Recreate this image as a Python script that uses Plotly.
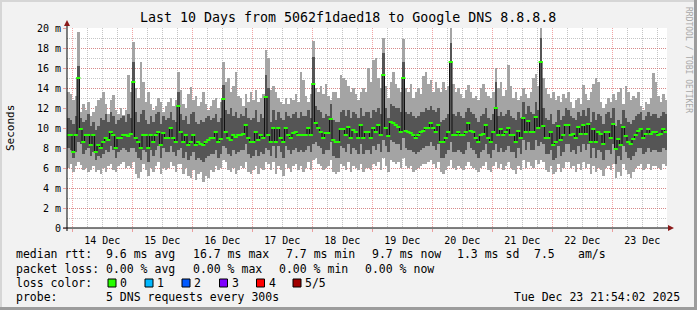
import plotly.graph_objects as go
import pandas as pd

# ---------------- data (ms) ----------------
START = "2025-12-13 21:54:02"
END = "2025-12-23 21:54:02"
FIRST_BAR = "2025-12-13 22:24:02"

median_ms = [
    9.3, 9.3, 7.6, 9.3, 15.0, 9.9, 8.6, 9.3, 9.3, 8.3,
    9.3, 7.6, 8.3, 8.0, 8.6, 9.0, 8.8, 9.6, 9.3, 8.0,
    9.0, 9.0, 9.3, 9.3, 9.2, 9.4, 14.6, 9.0, 8.6, 8.0,
    9.3, 9.3, 8.0, 9.3, 8.6, 9.3, 9.6, 8.3, 9.5, 9.0,
    9.0, 10.0, 9.0, 8.6, 12.2, 9.6, 8.6, 9.3, 8.3, 8.6,
    9.3, 8.3, 8.6, 8.4, 8.3, 8.6, 8.8, 9.0, 9.0, 9.6,
    8.6, 8.9, 12.9, 9.6, 9.0, 8.8, 9.3, 9.1, 9.3, 9.3,
    9.4, 10.3, 9.0, 8.6, 8.6, 9.6, 8.8, 9.3, 9.0, 13.1,
    9.3, 8.6, 10.0, 8.6, 10.0, 9.0, 8.6, 10.0, 9.3, 9.0,
    9.5, 9.6, 9.3, 9.3, 9.3, 9.3, 10.0, 9.3, 14.4, 10.5,
    10.0, 9.6, 9.0, 9.5, 9.5, 10.9, 8.8, 8.6, 8.6, 9.9,
    9.9, 9.3, 10.1, 9.0, 9.8, 9.6, 9.0, 10.3, 9.0, 9.6,
    9.6, 9.0, 10.0, 9.6, 10.3, 9.3, 15.3, 10.0, 9.2, 10.6,
    10.5, 10.3, 10.1, 9.6, 15.0, 9.7, 9.6, 9.5, 9.3, 9.0,
    9.3, 9.6, 9.7, 10.0, 10.0, 10.5, 10.0, 9.6, 10.3, 8.6,
    8.6, 9.0, 9.6, 16.6, 9.3, 9.3, 9.6, 9.3, 9.3, 9.6,
    10.5, 9.7, 9.6, 9.0, 8.6, 9.3, 9.4, 10.3, 9.0, 8.6,
    9.6, 12.0, 9.3, 9.9, 9.3, 9.6, 10.0, 9.3, 9.3, 8.6,
    9.7, 9.0, 11.0, 9.6, 10.7, 9.6, 9.6, 11.1, 10.0, 16.6,
    10.2, 9.0, 9.0, 9.6, 8.3, 8.6, 10.2, 8.8, 9.3, 10.3,
    10.3, 9.3, 9.4, 9.0, 10.1, 9.4, 10.3, 9.4, 10.4, 8.6,
    9.9, 8.6, 9.6, 9.4, 8.4, 9.6, 9.6, 9.0, 10.4, 7.9,
    8.9, 8.3, 10.1, 9.2, 8.6, 8.4, 8.9, 9.3, 9.7, 9.9,
    9.0, 9.4, 9.9, 9.4, 9.6, 9.6, 9.3, 9.4, 9.9, 9.6,
]

smoke_max = [
    13.6, 13.4, 12.8, 13.2, 19.6, 11.6, 12.4, 11.8, 12.6, 11.2,
    11.6, 12.2, 12.8, 13.0, 13.6, 12.4, 11.4, 12.8, 13.3, 11.8,
    11.4, 12.0, 11.3, 11.8, 15.3, 13.6, 18.6, 14.0, 13.0, 16.6,
    14.6, 12.6, 13.6, 12.4, 11.8, 12.2, 13.0, 12.6, 11.6, 12.2,
    12.6, 13.0, 12.2, 12.8, 15.6, 13.8, 12.4, 12.0, 13.4, 14.1,
    12.8, 13.2, 12.2, 12.6, 13.6, 12.4, 11.8, 12.2, 12.8, 13.0,
    12.0, 12.6, 16.6, 14.6, 15.0, 13.6, 14.2, 15.6, 13.2, 13.0,
    12.2, 13.4, 12.6, 13.6, 12.8, 13.8, 12.6, 13.0, 13.4, 17.8,
    17.0, 13.8, 14.2, 13.6, 13.0, 12.6, 12.4, 13.0, 12.4, 13.0,
    12.8, 13.4, 12.6, 15.6, 14.8, 13.2, 12.6, 13.4, 18.7, 14.0,
    13.6, 14.2, 13.4, 14.4, 13.2, 12.8, 13.6, 13.6, 13.0, 15.3,
    15.0, 14.8, 14.2, 13.6, 14.0, 13.4, 12.8, 13.6, 14.0, 13.6,
    16.0, 14.6, 16.8, 17.0, 15.0, 14.0, 19.0, 14.2, 13.0, 14.6,
    15.6, 14.4, 14.0, 13.6, 18.9, 14.0, 13.6, 14.4, 13.0, 13.6,
    14.0, 13.4, 15.2, 15.6, 14.4, 14.8, 13.6, 14.6, 14.0, 13.6,
    14.6, 13.8, 14.2, 20.0, 14.4, 13.6, 14.0, 13.4, 13.0, 13.8,
    14.3, 13.6, 13.0, 13.2, 12.8, 14.0, 14.4, 13.6, 13.2, 13.0,
    13.6, 16.0, 14.0, 14.6, 13.2, 13.8, 16.3, 14.2, 13.0, 13.6,
    12.8, 13.2, 14.0, 13.4, 13.0, 13.6, 15.0, 15.4, 14.2, 20.0,
    15.0, 14.0, 13.4, 13.0, 13.6, 12.8, 13.2, 12.6, 13.4, 13.0,
    13.6, 12.6, 12.0, 12.8, 13.0, 12.4, 14.3, 13.4, 12.8, 13.6,
    14.4, 15.0, 14.6, 12.6, 12.0, 12.4, 13.0, 12.6, 13.4, 12.8,
    13.6, 14.0, 12.4, 14.2, 13.6, 12.8, 13.2, 13.0, 13.6, 12.2,
    11.8, 12.6, 12.4, 13.0, 15.5, 14.6, 13.2, 12.6, 13.4, 12.8,
]

smoke_hi = [
    11.0, 10.8, 10.4, 11.2, 16.2, 11.0, 10.6, 10.8, 11.4, 10.2,
    10.6, 9.8, 10.2, 11.0, 10.8, 11.4, 10.6, 11.6, 11.2, 10.4,
    10.8, 11.0, 11.2, 10.6, 11.4, 11.0, 16.6, 11.6, 10.6, 11.4,
    11.8, 10.8, 10.4, 11.2, 10.6, 11.4, 11.6, 10.4, 11.2, 10.8,
    11.0, 11.6, 10.8, 10.6, 13.6, 11.4, 10.8, 11.2, 10.4, 11.4,
    11.6, 10.6, 10.4, 10.8, 10.6, 11.0, 11.2, 10.8, 11.0, 11.4,
    10.6, 11.0, 14.3, 11.8, 11.4, 12.0, 11.2, 11.6, 11.0, 11.4,
    11.2, 12.0, 11.0, 10.8, 11.0, 11.8, 10.6, 11.4, 11.0, 15.3,
    14.0, 10.6, 11.8, 10.8, 11.6, 11.0, 10.8, 11.6, 11.2, 11.0,
    11.4, 11.6, 11.0, 11.6, 11.2, 11.2, 11.8, 11.0, 17.1, 12.2,
    11.8, 11.6, 11.0, 11.4, 11.2, 12.4, 10.8, 10.6, 10.6, 11.6,
    11.8, 11.2, 11.8, 11.0, 11.6, 11.4, 11.0, 12.0, 11.2, 11.6,
    11.6, 11.0, 11.8, 11.6, 12.0, 11.4, 17.5, 12.0, 11.0, 12.4,
    12.2, 12.0, 12.0, 11.6, 16.6, 11.6, 11.4, 11.6, 11.2, 11.0,
    11.2, 11.6, 11.6, 12.0, 11.8, 12.2, 11.8, 11.6, 12.0, 10.6,
    10.8, 11.0, 11.4, 18.5, 11.4, 11.2, 11.6, 11.2, 11.0, 11.6,
    12.0, 11.6, 11.4, 11.0, 10.6, 11.2, 11.4, 12.0, 11.0, 10.8,
    11.4, 14.6, 11.2, 11.6, 11.2, 11.4, 11.8, 11.2, 11.0, 10.8,
    11.6, 11.0, 12.6, 11.4, 12.2, 11.6, 11.4, 12.6, 11.8, 19.0,
    12.0, 11.0, 10.8, 11.4, 10.4, 10.6, 11.8, 10.8, 11.2, 12.0,
    11.8, 11.2, 11.0, 10.8, 11.6, 11.2, 11.8, 11.2, 12.0, 10.6,
    11.6, 10.8, 11.4, 11.2, 10.4, 11.4, 11.6, 11.0, 12.0, 10.2,
    10.8, 10.4, 11.8, 11.0, 10.6, 10.4, 10.8, 11.2, 11.4, 11.6,
    10.8, 11.2, 11.6, 11.2, 11.4, 11.4, 11.0, 11.2, 11.6, 11.4,
]

smoke_lo = [
    8.0, 7.8, 7.0, 7.6, 8.6, 8.4, 7.4, 7.8, 8.0, 7.2,
    7.6, 6.8, 7.2, 7.0, 7.4, 7.8, 7.6, 8.2, 7.8, 7.0,
    7.6, 7.8, 8.0, 7.8, 7.6, 8.0, 8.0, 7.6, 7.0, 6.8,
    7.8, 7.6, 6.6, 7.8, 7.2, 7.8, 8.2, 7.0, 8.0, 7.6,
    7.6, 8.2, 7.6, 7.2, 7.8, 8.0, 7.0, 7.6, 6.8, 7.2,
    7.6, 6.8, 7.0, 6.8, 6.6, 7.0, 7.2, 7.4, 7.4, 7.8,
    7.0, 7.4, 8.2, 8.0, 7.4, 7.2, 7.8, 7.4, 7.6, 7.8,
    7.8, 8.4, 7.4, 7.0, 7.2, 7.8, 7.2, 7.6, 7.4, 8.0,
    7.8, 7.2, 8.2, 7.0, 8.2, 7.6, 7.0, 8.2, 7.8, 7.4,
    7.8, 8.0, 7.6, 7.8, 7.6, 7.8, 8.2, 7.6, 8.4, 8.6,
    8.2, 8.0, 7.4, 7.8, 7.8, 8.6, 7.2, 7.0, 7.0, 8.2,
    8.0, 7.6, 8.4, 7.4, 8.0, 7.8, 7.4, 8.4, 7.4, 7.8,
    7.8, 7.4, 8.2, 7.8, 8.4, 7.6, 8.8, 8.2, 7.6, 8.8,
    8.6, 8.4, 8.4, 7.8, 9.0, 8.0, 7.8, 7.8, 7.6, 7.4,
    7.6, 7.8, 8.0, 8.2, 8.2, 8.6, 8.2, 7.8, 8.4, 7.0,
    7.0, 7.4, 7.8, 8.6, 7.6, 7.6, 7.8, 7.6, 7.4, 7.8,
    8.6, 8.0, 7.8, 7.4, 7.0, 7.6, 7.8, 8.4, 7.4, 7.0,
    7.8, 8.4, 7.6, 8.0, 7.6, 7.8, 8.2, 7.6, 7.6, 7.0,
    8.0, 7.4, 8.8, 7.8, 8.6, 7.8, 7.8, 8.8, 8.2, 8.6,
    8.4, 7.4, 7.4, 7.8, 6.8, 7.0, 8.2, 7.2, 7.6, 8.4,
    8.4, 7.6, 7.8, 7.4, 8.2, 7.6, 8.4, 7.8, 8.4, 7.0,
    8.0, 7.0, 7.8, 7.6, 6.8, 7.8, 7.8, 7.4, 8.4, 6.4,
    7.2, 6.8, 8.2, 7.6, 7.0, 6.8, 7.2, 7.6, 8.0, 8.0,
    7.4, 7.6, 8.0, 7.6, 7.8, 7.8, 7.6, 7.6, 8.0, 7.8,
]

smoke_min = [
    6.0, 6.4, 5.6, 6.2, 6.6, 6.3, 5.8, 6.0, 5.6, 5.8,
    6.2, 5.6, 5.8, 5.4, 6.0, 5.6, 6.2, 6.4, 5.8, 5.6,
    6.2, 6.4, 6.6, 6.0, 6.2, 6.0, 6.6, 5.4, 5.0, 5.6,
    6.4, 5.8, 5.2, 6.0, 5.6, 6.2, 6.6, 5.4, 6.0, 5.8,
    6.0, 6.6, 6.2, 5.6, 6.4, 6.4, 5.4, 6.0, 5.2, 5.0,
    5.8, 4.8, 5.4, 5.6, 4.6, 5.2, 5.0, 5.8, 5.6, 6.2,
    5.8, 6.0, 6.8, 6.6, 5.8, 5.6, 6.0, 5.4, 5.8, 6.2,
    6.0, 6.6, 5.6, 5.4, 5.8, 6.2, 5.4, 6.0, 5.8, 6.6,
    6.4, 5.8, 6.6, 5.4, 6.2, 5.8, 5.2, 6.4, 6.0, 5.6,
    6.2, 6.4, 5.8, 6.2, 5.6, 6.0, 6.6, 5.8, 6.8, 7.0,
    6.4, 6.2, 5.8, 6.0, 6.2, 6.8, 5.6, 5.4, 5.6, 6.4,
    6.2, 5.8, 6.6, 5.6, 6.2, 6.0, 5.8, 6.4, 5.6, 6.0,
    6.0, 5.8, 6.4, 6.2, 6.6, 5.8, 7.0, 6.2, 5.6, 6.8,
    6.6, 6.4, 6.6, 6.0, 7.0, 6.2, 6.0, 6.2, 5.6, 5.8,
    6.0, 6.2, 6.4, 6.4, 6.6, 6.8, 6.4, 6.0, 6.6, 5.6,
    5.4, 5.8, 6.2, 6.8, 6.0, 5.8, 6.2, 6.0, 5.8, 6.2,
    6.6, 6.2, 6.0, 5.8, 5.6, 6.0, 6.2, 6.6, 5.8, 5.6,
    6.2, 6.6, 6.0, 6.4, 5.8, 6.2, 6.6, 6.0, 5.8, 5.4,
    6.2, 5.8, 6.8, 6.0, 6.6, 6.2, 6.0, 6.8, 6.4, 6.8,
    6.6, 5.8, 5.6, 6.2, 5.4, 5.6, 6.4, 5.6, 6.0, 6.6,
    6.6, 6.0, 6.2, 5.6, 6.4, 5.8, 6.6, 6.0, 6.4, 5.4,
    6.2, 5.6, 6.0, 5.8, 5.2, 6.0, 6.2, 5.8, 6.4, 5.0,
    5.6, 5.2, 6.4, 5.8, 5.4, 5.0, 5.6, 6.0, 6.2, 6.4,
    5.8, 6.0, 6.4, 5.8, 6.2, 6.2, 6.0, 5.8, 6.4, 6.2,
]

y_tick_vals = [0, 2, 4, 6, 8, 10, 12, 14, 16, 18, 20]
y_tick_text = ["0", "2 m", "4 m", "6 m", "8 m", "10 m", "12 m", "14 m", "16 m", "18 m", "20 m"]

loss_labels = ["0", "1", "2", "3", "4", "5/5"]
loss_colors = ["#26ff00", "#00b8ff", "#0059ff", "#7e00ff", "#ff0000", "#a00000"]

TITLE = "Last 10 Days from 5062f1daed18 to Google DNS 8.8.8.8"
legend_rows = [
    [("median rtt:", 16), ("9.6 ms avg", 106), ("16.7 ms max", 193), ("7.7 ms min", 286),
     ("9.7 ms now", 372), ("1.3 ms sd", 457), ("7.5", 534), ("am/s", 578)],
    [("packet loss:", 16), ("0.00 % avg", 106), ("0.00 % max", 193), ("0.00 % min", 279),
     ("0.00 % now", 365)],
]
probe_text = "5 DNS requests every 300s"
stamp_text = "Tue Dec 23 21:54:02 2025"

# ---------------- styles ----------------
MONO = "DejaVu Sans Mono"
LIGHT = "#a4a4a4"
DARK = "#555555"
GREEN = "#26ff00"
RED_GRID = "rgba(230,90,90,0.55)"
GRAY_GRID = "rgba(150,150,150,0.55)"

W, H = 697, 310
L, R, T, B = 67, 30, 28, 82
PW, PH = W - L - R, H - T - B


def px(x):
    return (x - L) / PW


def py(y):
    return (H - B - y) / PH


times = pd.date_range(FIRST_BAR, periods=len(median_ms), freq="h")
HOUR_MS = 3600 * 1000

fig = go.Figure()
fig.add_trace(go.Bar(
    x=times, y=[a - b for a, b in zip(smoke_max, smoke_min)], base=smoke_min,
    width=HOUR_MS, marker=dict(color=LIGHT, line=dict(width=0)), showlegend=False,
    hoverinfo="skip"))
fig.add_trace(go.Bar(
    x=times, y=[a - b for a, b in zip(smoke_hi, smoke_lo)], base=smoke_lo,
    width=HOUR_MS, marker=dict(color=DARK, line=dict(width=0)), showlegend=False,
    hoverinfo="skip"))
fig.add_trace(go.Scatter(
    x=times, y=median_ms, mode="lines", line=dict(color="#111111", width=1, shape="hvh"),
    showlegend=False, hoverinfo="skip"))
fig.add_trace(go.Scatter(
    x=times, y=median_ms, mode="markers",
    marker=dict(symbol="line-ew", size=3, line=dict(width=2, color=GREEN)),
    showlegend=False, hoverinfo="skip"))

shapes = []
# image border (3D look)
shapes.append(dict(type="rect", xref="paper", yref="paper", x0=px(0), x1=px(W), y0=py(2), y1=py(0),
                   fillcolor="#d6d6d6", line=dict(width=0), layer="below"))
shapes.append(dict(type="rect", xref="paper", yref="paper", x0=px(0), x1=px(2), y0=py(H), y1=py(0),
                   fillcolor="#d6d6d6", line=dict(width=0), layer="below"))
shapes.append(dict(type="rect", xref="paper", yref="paper", x0=px(0), x1=px(W), y0=py(H), y1=py(H - 3),
                   fillcolor="#9c9c9c", line=dict(width=0), layer="below"))
shapes.append(dict(type="rect", xref="paper", yref="paper", x0=px(W - 3), x1=px(W), y0=py(H), y1=py(0),
                   fillcolor="#9c9c9c", line=dict(width=0), layer="below"))
# axes
shapes.append(dict(type="line", xref="paper", yref="paper", x0=px(63), x1=px(670), y0=0, y1=0,
                   line=dict(color="#000000", width=1)))
shapes.append(dict(type="line", xref="paper", yref="paper", x0=0, x1=0, y0=py(231), y1=py(23),
                   line=dict(color="#000000", width=1)))
shapes.append(dict(type="path", xref="paper", yref="paper",
                   path=f"M {px(64)} {py(26)} L {px(70)} {py(26)} L {px(67)} {py(20)} Z",
                   fillcolor="#8b1a1a", line=dict(width=0)))
shapes.append(dict(type="path", xref="paper", yref="paper",
                   path=f"M {px(668)} {py(225)} L {px(668)} {py(231)} L {px(674)} {py(228)} Z",
                   fillcolor="#8b1a1a", line=dict(width=0)))
# loss colour boxes
box_x = [108, 145, 182, 219.5, 256.5, 293]
for bx, col in zip(box_x, loss_colors):
    shapes.append(dict(type="rect", xref="paper", yref="paper", x0=px(bx), x1=px(bx + 8),
                       y0=py(287), y1=py(279), fillcolor=col, line=dict(color="#000000", width=1)))

annotations = []


def text(t, x, y, size=11.5, anchor="left", color="#000000", angle=0):
    annotations.append(dict(text=t, x=px(x), y=py(y), xref="paper", yref="paper",
                            xanchor=anchor, yanchor="middle", showarrow=False, textangle=angle,
                            font=dict(family=MONO, size=size, color=color)))


text(TITLE, 348, 18, size=13.3, anchor="center")
text("Seconds", 10, 128, size=11, anchor="center", angle=-90)
text("RRDTOOL / TOBI OETIKER", 689, 60, size=8, anchor="center", color="#a8a8a8", angle=90)

row_y = [254, 268.5, 283, 297]
for row, yy in zip(legend_rows, row_y):
    for t, x in row:
        text(t, x - 2, yy)
text("loss color:", 14, row_y[2])
for bx, lab in zip(box_x, loss_labels):
    text(lab, bx + 10, row_y[2])
text("probe:", 14, row_y[3])
text(probe_text, 104, row_y[3])
text(stamp_text, 682, row_y[3], anchor="right")

fig.update_layout(
    width=W, height=H,
    margin=dict(l=L, r=R, t=T, b=B, pad=0),
    paper_bgcolor="#f2f2f2", plot_bgcolor="#ffffff",
    barmode="overlay", bargap=0,
    showlegend=False,
    shapes=shapes, annotations=annotations,
    font=dict(family=MONO, color="#000000"),
    xaxis=dict(
        type="date", range=[START, END],
        tick0="2025-12-14", dtick=86400000, tickformat="%d %b", ticklabelmode="period",
        ticks="outside", ticklen=3, tickcolor=RED_GRID,
        tickfont=dict(family=MONO, size=10, color="#000000"),
        showgrid=True, gridcolor=RED_GRID, griddash="1px,1px", gridwidth=1,
        minor=dict(tick0="2025-12-14", dtick=21600000, showgrid=True, gridcolor=GRAY_GRID,
                   griddash="1px,1px", gridwidth=1),
        showline=False, zeroline=False, fixedrange=True,
    ),
    yaxis=dict(
        range=[0, 20], tickmode="array", tickvals=y_tick_vals, ticktext=y_tick_text,
        ticks="outside", ticklen=3, tickcolor=RED_GRID,
        tickfont=dict(family=MONO, size=10, color="#000000"),
        showgrid=True, gridcolor=RED_GRID, griddash="1px,1px", gridwidth=1,
        minor=dict(dtick=1, tick0=0, showgrid=True, gridcolor=GRAY_GRID,
                   griddash="1px,1px", gridwidth=1),
        showline=False, zeroline=False, fixedrange=True,
    ),
)

fig.write_html("out.html")
